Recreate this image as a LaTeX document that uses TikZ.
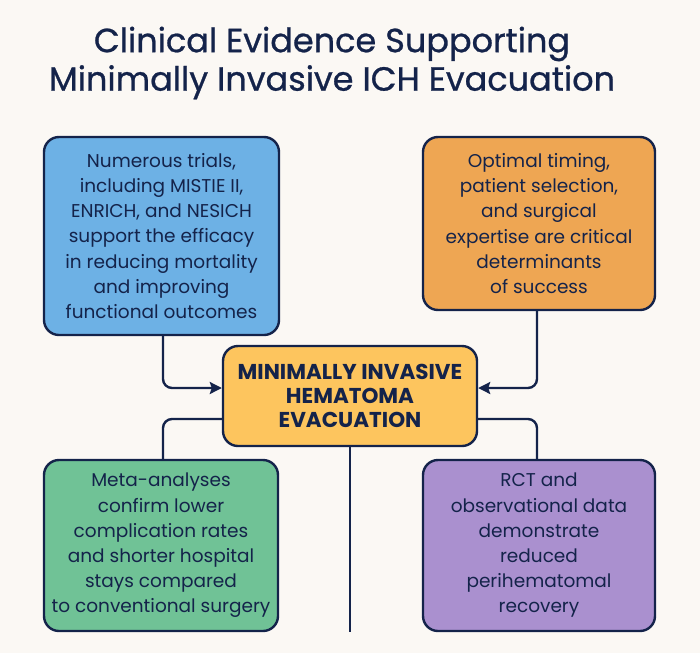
\documentclass[tikz,border=0pt]{standalone}
\usepackage{fontspec}
\setmainfont{Poppins}
\usetikzlibrary{arrows.meta}
\definecolor{navy}{HTML}{14234A}
\definecolor{hinter}{HTML}{FBF8F4}
\definecolor{blau}{HTML}{6DB1E5}
\definecolor{orange}{HTML}{EEA653}
\definecolor{gelb}{HTML}{FDC55E}
\definecolor{gruen}{HTML}{70C296}
\definecolor{lila}{HTML}{AA90CF}
\tikzset{kasten/.style = {
    shape = rectangle, draw = navy, line width = 2.4pt, rounded corners = 15pt,
    text = navy, align = center, inner sep = 0pt,
    font = \fontsize{18.5}{25.2}\selectfont
}}
\tikzset{linie/.style = {
    draw = navy, line width = 2.4pt, rounded corners = 9pt
}}
\tikzset{pfeil/.style = {
    linie, -{Stealth[length=12pt,width=12pt,inset=2pt]}
}}

\begin{document}
\begin{tikzpicture}[x=1pt,y=-1pt]
  \fill[hinter] (0,0) rectangle (700,653);
  \useasboundingbox (0,0) rectangle (700,653);
  \node (titel) at (332,63) [text = navy, align = center,
    font = \fontsize{33.5}{38.5}\selectfont\addfontfeature{FakeBold=0.8}]
    {Clinical Evidence Supporting\\Minimally Invasive ICH Evacuation};
  \node (blau) at (161.5,236) [kasten, fill = blau, minimum width = 235pt, minimum height = 198pt]
    {Numerous trials,\\including MISTIE II,\\ENRICH, and NESICH\\support the efficacy\\in reducing mortality\\and improving\\functional outcomes};
  \node (orange) at (539,223.5) [kasten, fill = orange, minimum width = 232pt, minimum height = 173pt]
    {Optimal timing,\\patient selection,\\and surgical\\expertise are critical\\determinants\\of success};
  \node (mitte) at (350,396) [kasten, fill = gelb, minimum width = 254pt, minimum height = 100pt,
    font = \fontsize{21.5}{24}\selectfont\bfseries]
    {MINIMALLY INVASIVE\\HEMATOMA\\EVACUATION};
  \node (gruen) at (161,545.5) [kasten, fill = gruen, minimum width = 234pt, minimum height = 171pt]
    {Meta-analyses\\confirm lower\\complication rates\\and shorter hospital\\stays compared\\to conventional surgery};
  \node (lila) at (539,545.5) [kasten, fill = lila, minimum width = 232pt, minimum height = 171pt]
    {RCT and\\observational data\\demonstrate\\reduced\\perihematomal\\recovery};
  \coordinate (ende) at (350,632);
  \draw[pfeil] ([xshift=1.5pt]blau.south) |- ([yshift=8pt]mitte.west);
  \draw[pfeil] ([xshift=-2pt]orange.south) |- ([yshift=8pt]mitte.east);
  \draw[linie] ([yshift=-23pt]mitte.west) -| ([xshift=2pt]gruen.north);
  \draw[linie] ([yshift=-23pt]mitte.east) -| ([xshift=-2pt]lila.north);
  \draw[linie] (mitte.south) -- (ende);
\end{tikzpicture}
\end{document}
